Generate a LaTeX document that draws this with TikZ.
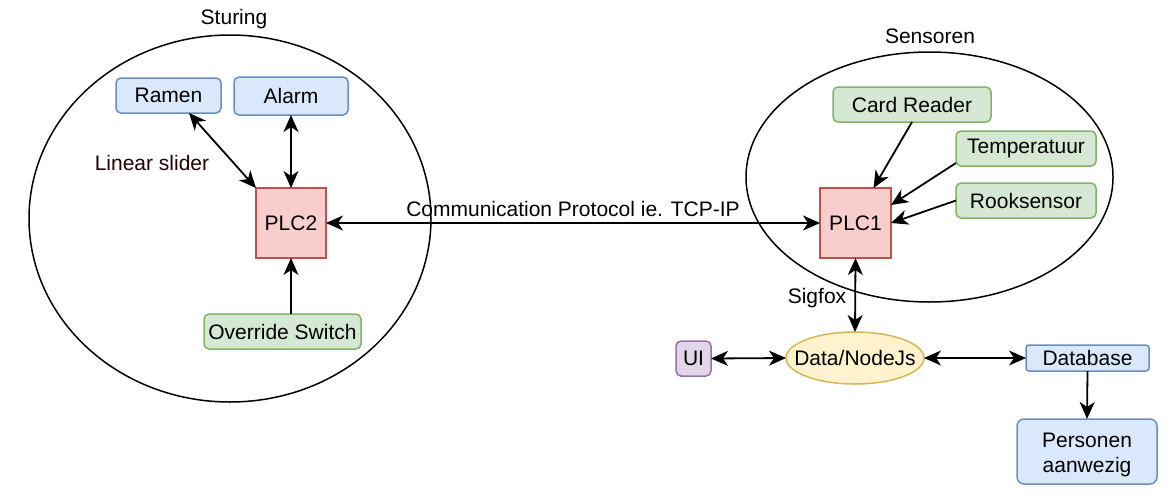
\documentclass[tikz,border=0pt]{standalone}
\usepackage{fontspec}
\setmainfont{Liberation Sans}
\usetikzlibrary{arrows.meta,shapes.geometric}
\definecolor{bluefill}{HTML}{DAE8FC}\definecolor{bluedraw}{HTML}{6C8EBF}
\definecolor{greenfill}{HTML}{D5E8D4}\definecolor{greendraw}{HTML}{82B366}
\definecolor{redfill}{HTML}{F8CECC}\definecolor{reddraw}{HTML}{B85450}
\definecolor{yellowfill}{HTML}{FFF2CC}\definecolor{yellowdraw}{HTML}{D6B656}
\definecolor{purplefill}{HTML}{E1D5E7}\definecolor{purpledraw}{HTML}{9673A6}
\definecolor{darkred}{HTML}{220000}
\tikzset{
  every node/.style={font=\fontsize{21}{24}\selectfont, inner sep=0pt, outer sep=0pt},
  box/.style={rectangle, rounded corners=5pt, line width=1.5pt, align=center},
  bluebox/.style={box, fill=bluefill, draw=bluedraw},
  greenbox/.style={box, fill=greenfill, draw=greendraw},
  plcbox/.style={rectangle, fill=redfill, draw=reddraw, line width=1.5pt, minimum width=70pt, minimum height=70pt},
  conn/.style={line width=1.8pt, -{Stealth[length=17pt,width=15pt,inset=5pt]}},
  bconn/.style={line width=1.8pt, {Stealth[length=17pt,width=15pt,inset=5pt]}-{Stealth[length=17pt,width=15pt,inset=5pt]}},
  group/.style={ellipse, draw=black, line width=1.5pt},
  lbl/.style={text=black}
}
\begin{document}
\begin{tikzpicture}[x=1pt,y=-1pt]
\useasboundingbox (0,0) rectangle (1169,498);
% groups
\node[group, minimum width=402pt, minimum height=367pt] (gl) at (230,218.5) {};
\node[group, minimum width=367pt, minimum height=250pt] (gr) at (929.5,177) {};
\node[lbl] (sturing) at (234,19) {Sturing};
\node[lbl] (sensoren) at (930,36) {Sensoren};
% left
\node[bluebox, minimum width=105pt, minimum height=35pt] (ramen) at (168.5,95.5) {Ramen};
\node[bluebox, minimum width=114pt, minimum height=38pt] (alarm) at (291,96) {Alarm};
\node[plcbox] (plc2) at (291,223) {PLC2};
\node[greenbox, minimum width=157pt, minimum height=35pt] (override) at (282.5,331.5) {Override Switch};
\node[text=darkred] (slider) at (152,163) {Linear slider};
% right
\node[greenbox, minimum width=158pt, minimum height=35pt] (card) at (912,104.5) {Card Reader};
\node[greenbox, minimum width=140pt, minimum height=35pt] (temp) at (1026,148.5) {Temperatuur};
\node[greenbox, minimum width=140pt, minimum height=35pt] (rook) at (1026,200.5) {Rooksensor};
\node[plcbox, minimum width=71pt] (plc1) at (855.5,223) {PLC1};
\node[ellipse, fill=yellowfill, draw=yellowdraw, line width=1.5pt, minimum width=138pt, minimum height=52pt] (data) at (855,358) {};
\node (datatext) at (data.center) {Data/NodeJs};
\node[box, fill=purplefill, draw=purpledraw, minimum width=35pt, minimum height=35pt] (ui) at (693.5,358.5) {UI};
\node[bluebox, rounded corners=3pt, minimum width=123pt, minimum height=26pt] (db) at (1087.5,358) {Database};
\node[bluebox, rounded corners=7pt, minimum width=140pt, minimum height=65pt] (pers) at (1087,451.5) {};
\node[align=center, font=\fontsize{21}{25.5}\selectfont] (perstext) at (1087,455) {Personen\\aanwezig};
% connector anchors
\coordinate (rs) at ([xshift=-32pt]ramen.south east);
\coordinate (ts) at ([yshift=3pt]temp.south west);
% connectors
\draw[bconn] (rs) -- (plc2.north west);
\draw[bconn] (alarm.south) -- (plc2.north);
\draw[conn] (override.north -| plc2.south) -- (plc2.south);
\draw[bconn] (plc2.east) -- node[above=6pt] (comm) {Communication Protocol ie. TCP-IP} (plc1.west);
\draw[conn] (card.south) -- ([xshift=18pt]plc1.north);
\draw[conn] (ts) -- ([yshift=18pt]plc1.east);
\draw[conn] (rook.west) -- (plc1.east);
\draw[bconn] (plc1.south) -- (data.north);
\node[lbl] (sigfox) at (817,298) {Sigfox};
\draw[bconn] (ui.east) -- (data.west);
\draw[bconn] (data.east) -- (db.west);
\draw[conn] (db.south) -- (pers.north);
\end{tikzpicture}
\end{document}
